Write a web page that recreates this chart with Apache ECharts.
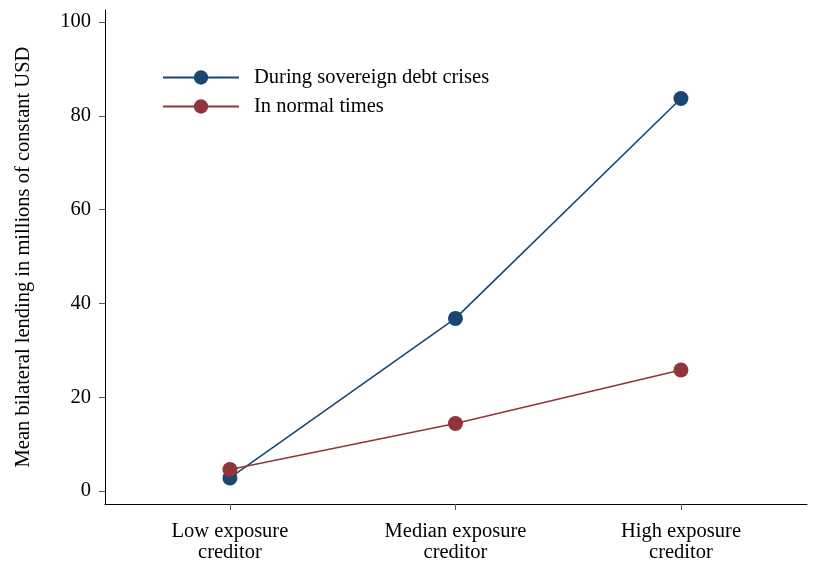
<!DOCTYPE html>
<html>
<head>
<meta charset="utf-8">
<script src="https://cdn.jsdelivr.net/npm/echarts@6/dist/echarts.min.js"></script>
<style>html,body{margin:0;padding:0;background:#fff}#c{width:813px;height:580px}</style>
</head>
<body>
<div id="c"></div>
<script>
const categories = ['Low exposure\ncreditor', 'Median exposure\ncreditor', 'High exposure\ncreditor'];
const crisisValues = [2.8, 36.8, 83.7];
const normalValues = [4.6, 14.4, 25.8];
const yTicks = [0, 20, 40, 60, 80, 100];
const seriesNames = ['During sovereign debt crises', 'In normal times'];

const font = '"Liberation Serif", "Times New Roman", serif';
const fs = 20.5;
const chart = echarts.init(document.getElementById('c'), null, {renderer: 'canvas'});
const toPts = vals => vals.map((v, i) => [i + 1, v]);

chart.setOption({
  animation: false,
  backgroundColor: '#fff',
  textStyle: {fontFamily: font, color: '#000'},
  grid: {left: 105, right: 6, top: 10, bottom: 76, containLabel: false},
  legend: {
    orient: 'vertical',
    left: 162,
    top: 67,
    padding: 0,
    itemWidth: 76,
    itemHeight: 18,
    itemGap: 8,
    textStyle: {fontFamily: font, fontSize: fs, color: '#000', padding: [0, 0, 0, 10]},
    data: seriesNames
  },
  xAxis: {
    type: 'value',
    min: 0.446,
    max: 3.559,
    splitLine: {show: false},
    axisLine: {show: true, onZero: false, lineStyle: {color: '#000', width: 1}},
    axisTick: {show: true, length: 6, lineStyle: {color: '#555', width: 1}, customValues: [1, 2, 3]},
    axisLabel: {
      customValues: [1, 2, 3],
      formatter: v => categories[Math.round(v) - 1] || '',
      fontFamily: font, fontSize: fs, color: '#000', lineHeight: 21, margin: 17
    }
  },
  yAxis: {
    type: 'value',
    min: -2.77,
    max: 102.56,
    name: 'Mean bilateral lending in millions of constant USD',
    nameLocation: 'middle',
    nameGap: 71,
    nameTextStyle: {fontFamily: font, fontSize: fs, color: '#000'},
    splitLine: {show: false},
    axisLine: {show: true, onZero: false, lineStyle: {color: '#000', width: 1}},
    axisTick: {show: true, length: 6, lineStyle: {color: '#555', width: 1}, customValues: yTicks},
    axisLabel: {customValues: yTicks, fontFamily: font, fontSize: fs, color: '#000', margin: 14}
  },
  series: [
    {
      name: seriesNames[0], type: 'line', data: toPts(crisisValues),
      symbol: 'circle', symbolSize: 15,
      lineStyle: {color: '#1a476f', width: 1.6},
      itemStyle: {color: '#1a476f'}, z: 2
    },
    {
      name: seriesNames[1], type: 'line', data: toPts(normalValues),
      symbol: 'circle', symbolSize: 15,
      lineStyle: {color: '#90353b', width: 1.6},
      itemStyle: {color: '#90353b'}, z: 3
    }
  ]
});
</script>
</body>
</html>
